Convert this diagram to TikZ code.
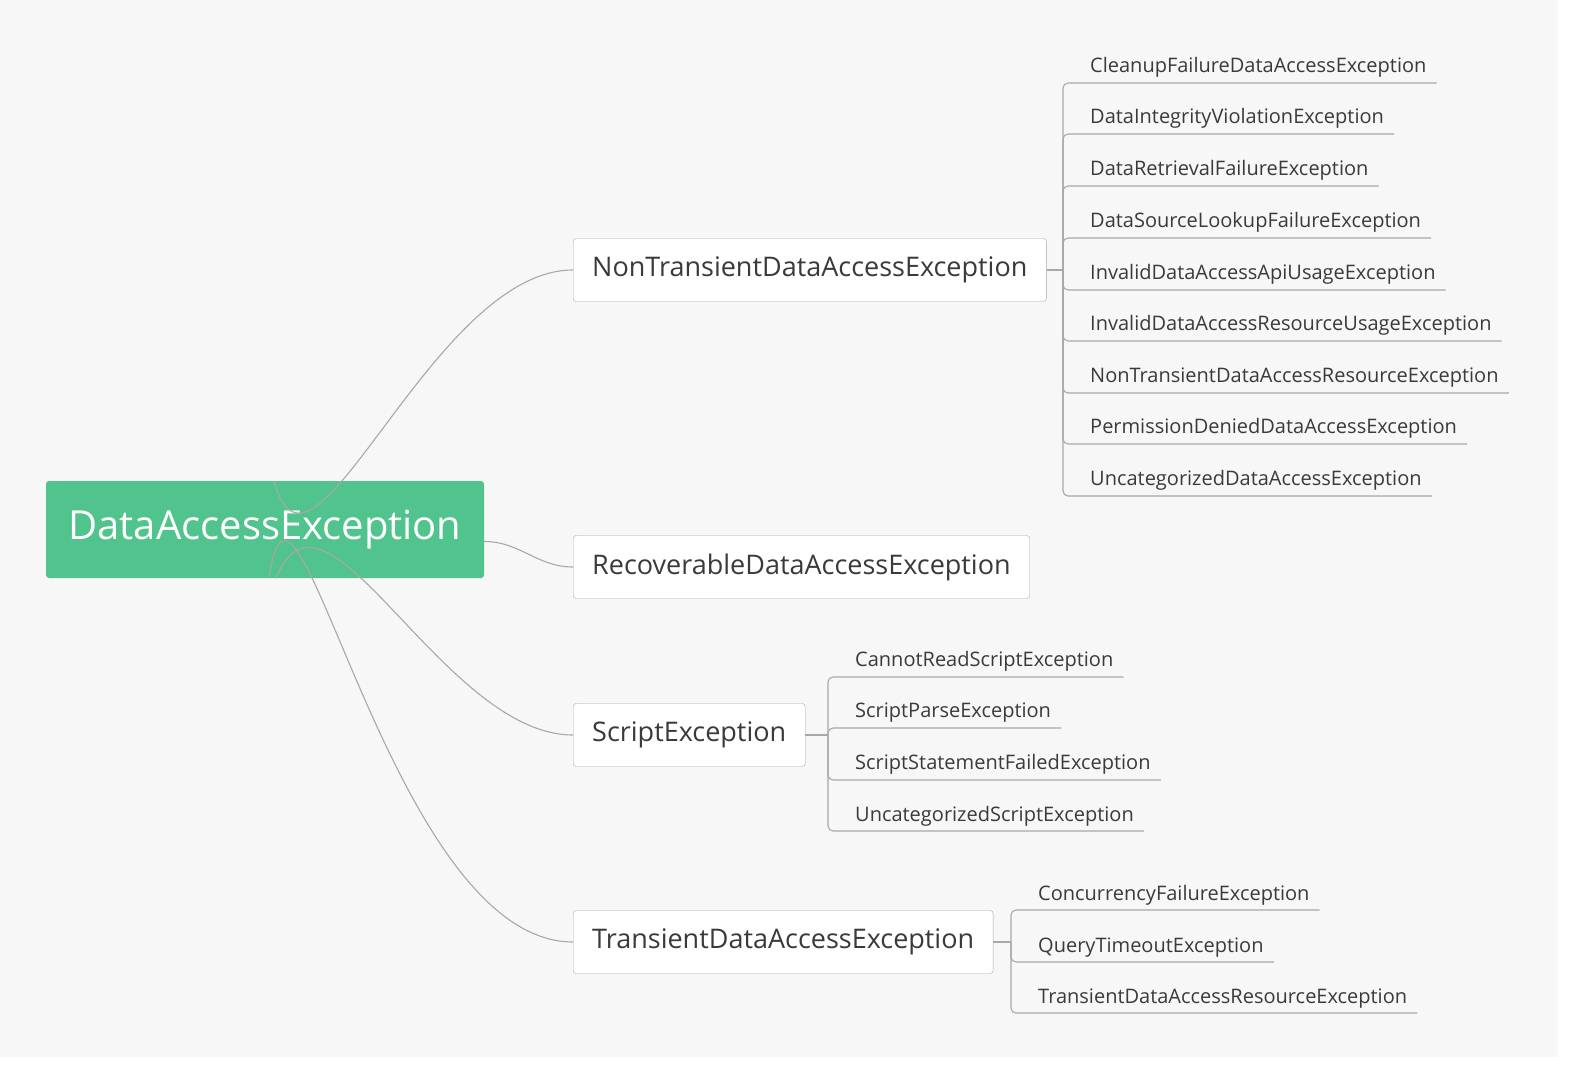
\documentclass[tikz,border=0pt]{standalone}
\usepackage{fontspec}
\setmainfont{Open Sans}
\usepackage{tikz}
\usetikzlibrary{positioning,calc}
\definecolor{bggray}{HTML}{F7F7F7}
\definecolor{rootgreen}{HTML}{50C48C}
\definecolor{linegray}{HTML}{A8A8A8}
\definecolor{txtgray}{HTML}{3A3A3A}
\tikzset{
	rootbox/.style={fill=rootgreen, rounded corners=3pt, text=white, minimum width=438pt, minimum height=97pt, font=\fontsize{40}{48}\selectfont},
	subbox/.style={draw=linegray, fill=white, rounded corners=3pt, text=txtgray, anchor=west, minimum height=63pt, inner xsep=19pt, font=\fontsize{27}{32}\selectfont},
	leaf/.style={anchor=south west, inner xsep=10pt, inner ysep=5pt, text=txtgray, font=\fontsize{20}{24}\selectfont},
	link/.style={draw=linegray, line width=1.1pt},
	bracket/.style={draw=linegray, line width=1.1pt, rounded corners=5pt}
}
\begin{document}
\begin{tikzpicture}[x=1pt, y=-1pt]
	\useasboundingbox[fill=white] (0,0) rectangle (1583,1075);
	\fill[bggray] (0,0) rectangle (1558,1057);

	\node [rootbox] (root) at (265, 529.5) {DataAccessException};
	\node [subbox] (nt) at (573, 270) {NonTransientDataAccessException};
	\node [subbox] (rec) at (573, 567) {RecoverableDataAccessException};
	\node [subbox] (scr) at (573, 735) {ScriptException};
	\node [subbox] (tr) at (573, 942) {TransientDataAccessException};

	% root to first level
	\draw [link] ([xshift=9pt]root.north) to[out=-75, in=180] (nt.west);
	\draw [link] ([yshift=-12pt]root.east) to[out=0, in=180] (rec.west);
	\draw [link] ([xshift=11pt]root.south) to[out=68, in=180] (scr.west);
	\draw [link] ([xshift=4pt]root.south) to[out=82, in=180] (tr.west);

	% non transient leaves
	\coordinate (ntj) at (1063, 270);
	\draw [link] (nt.east) -- (ntj);
	\foreach \name/\y/\txt in {n1/83/CleanupFailureDataAccessException, n2/134/DataIntegrityViolationException, n3/186/DataRetrievalFailureException, n4/238/DataSourceLookupFailureException, n5/290/InvalidDataAccessApiUsageException, n6/341/InvalidDataAccessResourceUsageException, n7/393/NonTransientDataAccessResourceException, n8/444/PermissionDeniedDataAccessException, n9/496/UncategorizedDataAccessException} {
		\node [leaf] (\name) at (1080, \y) {\txt};
		\draw [bracket] (ntj) |- (\name.south east);
	}

	% script leaves
	\coordinate (scj) at (828, 735);
	\draw [link] (scr.east) -- (scj);
	\foreach \name/\y/\txt in {s1/677/CannotReadScriptException, s2/728/ScriptParseException, s3/780/ScriptStatementFailedException, s4/831/UncategorizedScriptException} {
		\node [leaf] (\name) at (845, \y) {\txt};
		\draw [bracket] (scj) |- (\name.south east);
	}

	% transient leaves
	\coordinate (trj) at (1011, 942);
	\draw [link] (tr.east) -- (trj);
	\foreach \name/\y/\txt in {t1/910/ConcurrencyFailureException, t2/962/QueryTimeoutException, t3/1013/TransientDataAccessResourceException} {
		\node [leaf] (\name) at (1028, \y) {\txt};
		\draw [bracket] (trj) |- (\name.south east);
	}
\end{tikzpicture}
\end{document}
